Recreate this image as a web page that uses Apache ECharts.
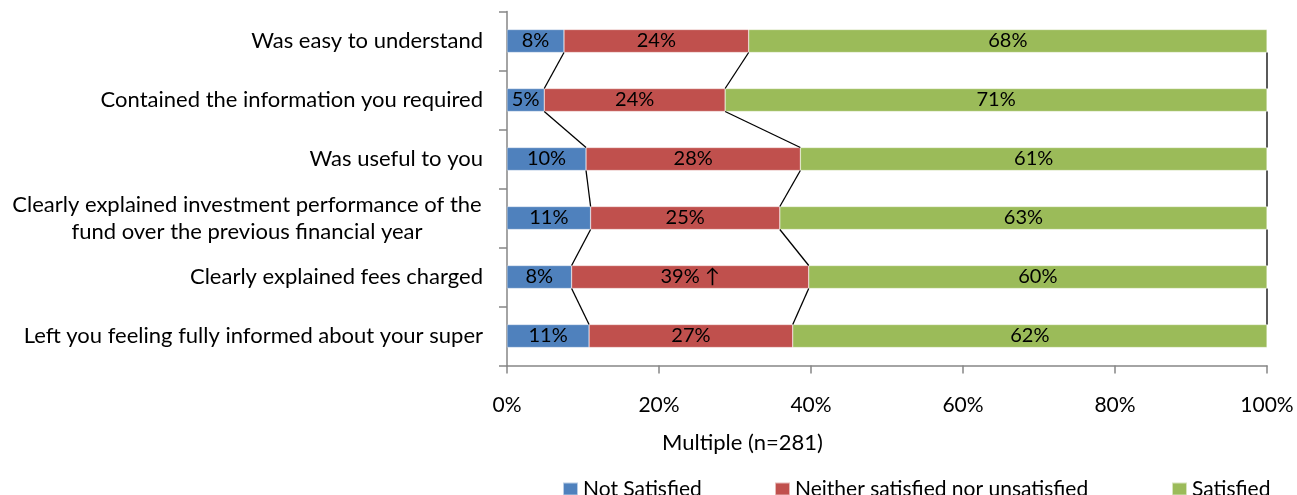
<!DOCTYPE html>
<html>
<head>
<meta charset="utf-8">
<script src="https://cdn.jsdelivr.net/npm/echarts@6/dist/echarts.min.js"></script>
<style>
html,body{margin:0;padding:0;background:#fff;}
#main{width:1297px;height:495px;}
</style>
</head>
<body>
<div id="main"></div>
<script>
const categories = [
  'Was easy to understand',
  'Contained the information you required',
  'Was useful to you',
  'Clearly explained investment performance of the\nfund over the previous financial year',
  'Clearly explained fees charged',
  'Left you feeling fully informed about your super'
];
const seriesNames = ['Not Satisfied', 'Neither satisfied nor unsatisfied', 'Satisfied'];
const notSatisfied = [7.5, 4.9, 10.4, 11.0, 8.5, 10.8];
const neither = [24.3, 23.8, 28.2, 24.9, 31.2, 26.8];
const satisfied = [68.2, 71.3, 61.4, 64.1, 60.3, 62.4];
const notSatisfiedLabels = ['8%', '5%', '10%', '11%', '8%', '11%'];
const neitherLabels = ['24%', '24%', '28%', '25%', '39% \u2191', '27%'];
const satisfiedLabels = ['68%', '71%', '61%', '63%', '60%', '62%'];
const xTicks = [0, 20, 40, 60, 80, 100];
const axisTitle = 'Multiple (n=281)';

const FONT = 'Lato';
const BAR_W = 23;
const colors = ['#4F81BD', '#C0504D', '#9BBB59'];

const chart = echarts.init(document.getElementById('main'), null, {renderer: 'canvas'});

function labelFor(arr) {
  return {
    show: true, position: 'inside', color: '#000', fontFamily: FONT, fontSize: 20,
    formatter: p => arr[p.dataIndex]
  };
}

const valuesBySeries = [notSatisfied, neither, satisfied];
const connectorData = categories.slice(0, -1).map((_, i) => [0, i]);

const option = {
  animation: false,
  grid: {left: 507, right: 30, top: 11.5, bottom: 129.5, containLabel: false},
  xAxis: {
    type: 'value', min: xTicks[0], max: xTicks[xTicks.length - 1], interval: 20,
    axisLine: {show: true, lineStyle: {color: '#868686', width: 1.5}},
    axisTick: {show: true, length: 8, lineStyle: {color: '#868686', width: 1.5}},
    splitLine: {show: false},
    axisLabel: {formatter: '{value}%', color: '#000', fontFamily: FONT, fontSize: 21, margin: 29}
  },
  yAxis: {
    type: 'category', data: categories, inverse: true,
    axisLine: {show: true, lineStyle: {color: '#868686', width: 1.5}},
    axisTick: {show: true, length: 8, lineStyle: {color: '#868686', width: 1.5}},
    axisLabel: {
      color: '#000', fontFamily: FONT, fontSize: 22, margin: 24, lineHeight: 27,
      formatter: function (v) {
        if (v.indexOf('\n') >= 0) {
          return v.split('\n').map(s => '{c|' + s + '}').join('\n');
        }
        return v;
      },
      rich: {c: {width: 472, align: 'center', fontFamily: FONT, fontSize: 22, color: '#000', lineHeight: 27}}
    }
  },
  legend: [0, 1, 2].map((k) => ({
    data: [seriesNames[k]],
    left: [562, 774, 1171][k], top: 478, padding: 0,
    icon: 'rect', itemWidth: 15, itemHeight: 13, itemGap: 6,
    textStyle: {color: '#000', fontFamily: FONT, fontSize: 21, lineHeight: 22}
  })),
  graphic: [{
    type: 'text', left: 662, top: 432,
    style: {text: axisTitle, fill: '#000', font: '22px ' + FONT}
  }],
  series: [0, 1, 2].map(k => ({
    name: seriesNames[k], type: 'bar', stack: 'total', barWidth: BAR_W,
    itemStyle: {color: colors[k], borderColor: 'rgba(255,255,255,0.6)', borderWidth: 0.5},
    label: labelFor([notSatisfiedLabels, neitherLabels, satisfiedLabels][k]),
    data: valuesBySeries[k]
  })).concat([{
    type: 'custom', name: 'connectors', silent: true, z: 5,
    encode: {x: 0, y: 1},
    data: connectorData,
    renderItem: function (params, api) {
      const i = params.dataIndex;
      const children = [];
      let cumA = 0, cumB = 0;
      for (let k = 0; k < 3; k++) {
        cumA += valuesBySeries[k][i];
        cumB += valuesBySeries[k][i + 1];
        const pA = api.coord([cumA, i]);
        const pB = api.coord([cumB, i + 1]);
        children.push({
          type: 'line',
          shape: {x1: pA[0], y1: pA[1] + BAR_W / 2, x2: pB[0], y2: pB[1] - BAR_W / 2},
          style: {stroke: '#000', lineWidth: 1.3}
        });
      }
      return {type: 'group', children: children};
    }
  }])
};
chart.setOption(option);
</script>
</body>
</html>
